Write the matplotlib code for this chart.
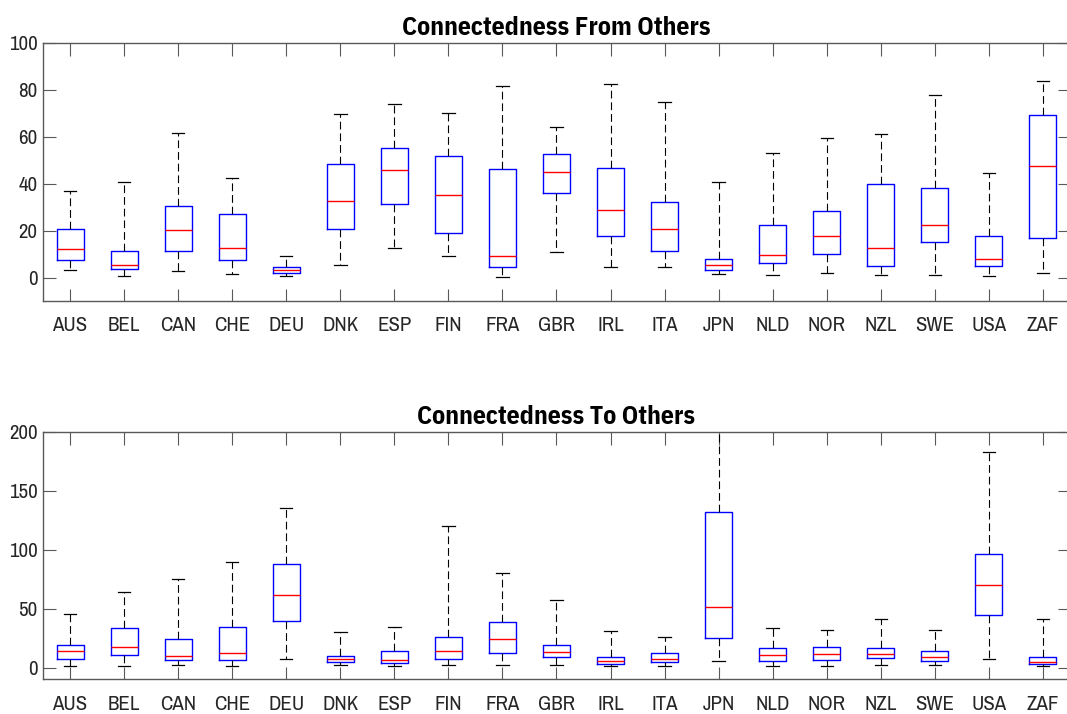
#!/usr/bin/env python3
# -*- coding: utf-8 -*-
"""Connectedness from / to others: boxplots per country."""
import matplotlib

matplotlib.use("Agg")
import matplotlib.pyplot as plt
from matplotlib import font_manager

countries = ["AUS", "BEL", "CAN", "CHE", "DEU", "DNK", "ESP", "FIN", "FRA", "GBR",
             "IRL", "ITA", "JPN", "NLD", "NOR", "NZL", "SWE", "USA", "ZAF"]

# connectedness from others: whisker low, q1, median, q3, whisker high
from_lo = [3.1, 0.6, 2.8, 1.7, 0.6, 5.5, 12.5, 9.4, 0.4, 11.1,
           4.6, 4.6, 1.7, 1.0, 2.0, 1.1, 1.3, 0.7, 2.0]
from_q1 = [7.7, 3.6, 11.5, 7.3, 2.1, 20.6, 31.2, 19.1, 4.4, 36.1,
           17.9, 11.5, 3.4, 6.0, 10.0, 5.1, 15.2, 4.8, 16.8]
from_med = [12.2, 5.5, 20.2, 12.4, 3.4, 32.6, 45.8, 35.4, 9.1, 45.2,
            28.7, 20.8, 5.5, 9.7, 17.6, 12.8, 22.5, 8.1, 47.4]
from_q3 = [20.6, 11.5, 30.4, 27.2, 4.6, 48.4, 55.2, 51.8, 46.1, 52.5,
           46.8, 32.3, 8.1, 22.2, 28.4, 39.8, 38.0, 17.9, 69.3]
from_hi = [36.8, 40.8, 61.7, 42.5, 9.1, 69.6, 74.1, 70.0, 81.5, 64.3,
           82.5, 74.8, 40.8, 53.2, 59.5, 61.0, 78.0, 44.7, 83.8]

# connectedness to others
to_lo = [1.7, 1.4, 2.3, 1.7, 7.1, 2.5, 1.1, 2.5, 2.5, 2.0,
         1.1, 1.4, 5.9, 1.1, 1.7, 2.3, 2.3, 7.6, 1.1]
to_q1 = [7.6, 10.5, 6.5, 6.5, 39.1, 5.1, 3.7, 7.4, 12.5, 8.8,
         3.4, 4.5, 24.9, 5.9, 6.2, 7.9, 5.9, 44.2, 3.4]
to_med = [14.2, 17.6, 10.2, 12.7, 62.0, 7.1, 6.5, 14.2, 24.6, 13.0,
          5.7, 7.6, 51.6, 10.5, 11.6, 11.9, 9.1, 69.7, 5.1]
to_q3 = [19.0, 33.7, 23.8, 34.3, 87.5, 9.9, 14.2, 25.5, 38.8, 19.3,
         9.1, 12.5, 131.7, 16.7, 17.6, 17.0, 14.4, 96.0, 9.1]
to_hi = [45.3, 63.7, 75.4, 89.5, 135.1, 30.3, 34.8, 120.4, 80.5, 57.2,
         31.4, 25.8, 215.0, 33.4, 32.0, 41.6, 32.0, 183.3, 40.8]

# narrow Helvetica-like faces if they are around
installed = {f.name for f in font_manager.fontManager.ttflist}


def pick(*names):
    for fam in names:
        if fam in installed:
            return [fam, "DejaVu Sans"]
    return ["DejaVu Sans"]


plt.rcParams["font.family"] = pick("Liberation Sans Narrow", "Archivo Narrow", "Liberation Sans")
TITLE_FONT = pick("IBM Plex Sans Condensed", "Fira Sans Condensed", "Liberation Sans")

AXIS_GREY = "0.35"


def make_stats(lo, q1, med, q3, hi):
    return [dict(whislo=a, q1=b, med=c, q3=d, whishi=e, fliers=[])
            for a, b, c, d, e in zip(lo, q1, med, q3, hi)]


def draw_panel(ax, stats, title, ylim, yticks):
    pos = list(range(1, len(countries) + 1))
    ax.bxp(
        stats,
        positions=pos,
        widths=0.5,
        capwidths=0.23,
        showfliers=False,
        boxprops=dict(color="blue", linewidth=1.0),
        medianprops=dict(color="red", linewidth=1.0),
        whiskerprops=dict(color="black", linewidth=0.8, linestyle=(0, (7, 3.5))),
        capprops=dict(color="black", linewidth=0.9),
    )
    ax.set_xlim(0.5, len(countries) + 0.5)
    ax.set_ylim(*ylim)
    ax.set_xticks(pos)
    ax.set_xticklabels(countries)
    ax.set_yticks(yticks)
    ax.tick_params(axis="both", direction="in", length=9, width=0.8,
                   color=AXIS_GREY, labelsize=15, labelcolor="#262626",
                   top=True, right=True)
    ax.tick_params(axis="x", pad=11)
    ax.tick_params(axis="y", pad=4)
    for sp in ax.spines.values():
        sp.set_color(AXIS_GREY)
        sp.set_linewidth(1.0)
    ax.set_title(title, fontsize=18.5, fontweight="bold", family=TITLE_FONT, pad=6)


fig = plt.figure(figsize=(10.67, 7.14), dpi=100)
ax_from = fig.add_axes([0.0403, 0.5784, 0.9625, 0.3614])
ax_to = fig.add_axes([0.0403, 0.0486, 0.9625, 0.3464])

draw_panel(ax_from, make_stats(from_lo, from_q1, from_med, from_q3, from_hi),
           "Connectedness From Others", (-10, 100), [0, 20, 40, 60, 80, 100])
draw_panel(ax_to, make_stats(to_lo, to_q1, to_med, to_q3, to_hi),
           "Connectedness To Others", (-10, 200), [0, 50, 100, 150, 200])

fig.savefig("out.png", dpi=100)
